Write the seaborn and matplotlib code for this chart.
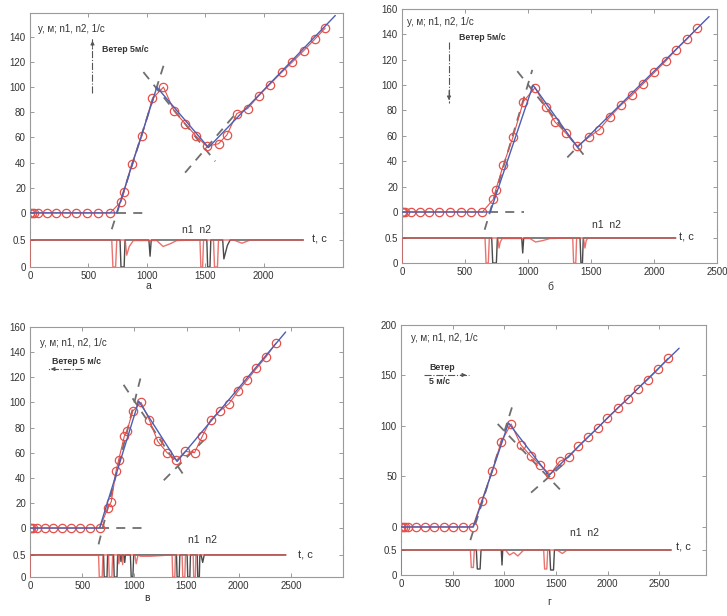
import matplotlib
matplotlib.use("Agg")
import matplotlib.pyplot as plt
import seaborn as sns

sns.set_style("white")
plt.rcParams['font.family'] = ['Liberation Sans', 'DejaVu Sans']

# ---------------- data ----------------
# panel а
a_t = [0, 14, 30, 71, 143, 223, 306, 394, 491, 586, 686, 780, 806, 871, 957, 1048, 1143, 1234, 1328,
       1423, 1514, 1614, 1686, 1771, 1863, 1957, 2051, 2157, 2246, 2343, 2437, 2528]
a_y = [0, 0, 0, 0, 0, 0, 0, 0, 0, 0, 0, 9, 17, 39, 61, 91, 100, 81, 71, 61, 53, 55, 62, 79, 83, 93,
       102, 112, 120, 129, 138, 147]
a_fit_t = [0, 743, 1086, 1528, 2614]
a_fit_y = [0, 0, 100, 52, 157]
a_tan_t = [[743, 971], [700, 1143], [971, 1586], [1328, 1743]]
a_tan_y = [[0, 0], [-13, 117], [112, 41], [32, 77]]
a_n1_t = [0, 0, 700, 710, 733, 743, 815, 828, 850, 885, 1085, 1140, 1200, 1257, 1455, 1463, 1478, 1486,
          1571, 1580, 1605, 1614, 1743, 1815, 1886, 2340]
a_n1_v = [0, 0.5, 0.5, 0, 0, 0.5, 0.5, 0.22, 0.38, 0.49, 0.49, 0.38, 0.43, 0.49, 0.5, 0, 0, 0.5,
          0.5, 0, 0, 0.5, 0.5, 0.44, 0.5, 0.5]
a_n2_t = [0, 771, 779, 806, 814, 1018, 1028, 1038, 1514, 1521, 1541, 1548, 1650, 1660, 1690, 1714, 2340]
a_n2_v = [0.5, 0.5, 0, 0, 0.5, 0.5, 0.2, 0.5, 0.5, 0, 0, 0.5, 0.5, 0.15, 0.40, 0.5, 0.5]

# panel б
b_t = [0, 10, 25, 69, 140, 214, 294, 378, 466, 550, 638, 725, 743, 804, 881, 963, 1056, 1140, 1214,
       1302, 1392, 1484, 1566, 1651, 1735, 1825, 1913, 2003, 2093, 2175, 2259, 2344]
b_y = [0, 0, 0, 0, 0, 0, 0, 0, 0, 0, 0, 10, 17, 37, 59, 87, 98, 83, 71, 62, 52, 59, 65, 75, 84, 92,
       101, 110, 119, 128, 136, 145]
b_fit_t = [0, 700, 1040, 1392, 2437]
b_fit_y = [0, 0, 100, 51, 154]
b_tan_t = [[690, 968], [656, 1034], [915, 1458], [1312, 1400]]
b_tan_y = [[0, 0], [-14, 112], [111, 43], [43, 52]]
b_n1_t = [0, 0, 659, 667, 685, 693, 760, 770, 780, 795, 1015, 1060, 1120, 1175, 1355, 1362, 1379, 1386,
          1440, 1452, 1462, 1475, 2172]
b_n1_v = [0, 0.5, 0.5, 0, 0, 0.5, 0.5, 0.3, 0.42, 0.49, 0.49, 0.42, 0.45, 0.49, 0.5, 0, 0, 0.5,
          0.5, 0.3, 0.45, 0.5, 0.5]
b_n2_t = [0, 712, 720, 749, 757, 950, 958, 966, 1413, 1420, 1432, 1439, 2172]
b_n2_v = [0.5, 0.5, 0, 0, 0.5, 0.5, 0.2, 0.5, 0.5, 0, 0, 0.5, 0.5]

# panel в
c_t = [0, 12, 32, 64, 144, 224, 311, 394, 481, 571, 667, 747, 779, 824, 849, 904, 929, 984, 1064,
       1144, 1224, 1314, 1404, 1490, 1577, 1651, 1731, 1817, 1907, 1994, 2083, 2170, 2260, 2356]
c_y = [0, 0, 0, 0, 0, 0, 0, 0, 0, 0, 0, 16, 21, 45, 54, 73, 77, 93, 100, 86, 69, 60, 54, 61, 60, 73,
       86, 93, 99, 109, 118, 127, 136, 147]
c_fit_t = [0, 667, 1042, 1410, 2450]
c_fit_y = [0, 0, 101, 53, 156]
c_tan_t = [[673, 1090], [657, 1058], [897, 1490], [1282, 1667]]
c_tan_y = [[0, 0], [-13, 119], [114, 40], [38, 70]]
c_n1_t = [0, 0, 657, 664, 692, 699, 753, 760, 785, 792, 845, 852, 860, 880, 888, 895, 1005, 1018, 1035,
          1060, 1150, 1362, 1368, 1388, 1394, 1458, 1464, 1484, 1490, 1564, 1569, 1585, 1590, 2452]
c_n1_v = [0, 0.5, 0.5, 0, 0, 0.5, 0.5, 0, 0, 0.5, 0.5, 0.3, 0.5, 0.5, 0.28, 0.5, 0.5, 0.3, 0.5,
          0.47, 0.47, 0.5, 0, 0, 0.5, 0.5, 0, 0, 0.5, 0.5, 0, 0, 0.5, 0.5]
c_n2_t = [0, 705, 711, 738, 744, 801, 807, 834, 840, 865, 872, 880, 900, 908, 915, 962, 970, 986, 994,
          1404, 1410, 1430, 1436, 1506, 1512, 1532, 1538, 1603, 1608, 1623, 1628, 1640, 1655, 1670, 2452]
c_n2_v = [0.5, 0.5, 0, 0, 0.5, 0.5, 0, 0, 0.5, 0.5, 0.35, 0.5, 0.5, 0.33, 0.5, 0.5, 0, 0, 0.5,
          0.5, 0, 0, 0.5, 0.5, 0, 0, 0.5, 0.5, 0, 0, 0.5, 0.5, 0.33, 0.5, 0.5]

# panel г
d_t = [0, 16, 39, 65, 145, 235, 316, 413, 506, 600, 694, 781, 881, 968, 1065, 1161, 1258, 1348, 1442,
       1535, 1623, 1716, 1806, 1903, 1994, 2097, 2194, 2290, 2387, 2484, 2581]
d_y = [0, 0, 0, 0, 0, 0, 0, 0, 0, 0, 0, 26, 55, 84, 102, 81, 70, 61, 52, 65, 69, 80, 89, 98, 108, 118,
       127, 137, 146, 156, 167]
d_fit_t = [0, 700, 1040, 1430, 2690]
d_fit_y = [0, 0, 103, 51, 177]
d_tan_t = [[671, 1081], [935, 1548], [1258, 1580]]
d_tan_y = [[-13, 121], [102, 36], [34, 63]]
d_n1_t = [0, 0, 671, 680, 700, 709, 1010, 1050, 1090, 1130, 1187, 1380, 1389, 1410, 1419, 1510, 1560,
          1607, 2613]
d_n1_v = [0, 0.5, 0.5, 0.15, 0.15, 0.5, 0.5, 0.40, 0.45, 0.38, 0.5, 0.5, 0.12, 0.12, 0.5, 0.5, 0.43,
          0.5, 0.5]
d_n2_t = [0, 729, 738, 765, 774, 970, 977, 984, 1438, 1447, 1475, 1484, 2613]
d_n2_v = [0.5, 0.5, 0.12, 0.12, 0.5, 0.5, 0.2, 0.5, 0.5, 0.1, 0.1, 0.5, 0.5]

captions = ["а", "б", "в", "г"]
ylabel_text = "y, м; n1, n2, 1/с"

# ---------------- layout ----------------
W, H = 727, 616
fig = plt.figure(figsize=(W / 100, H / 100), dpi=100)

RED = "#e4504a"
BLUE = "#4b5fb3"
DASH = "#6f6f6f"
GRAY = "#4a4a4a"
SPINE = "#9a9a9a"


def px_axes(L, R, T, B):
    return fig.add_axes([L / W, 1 - B / H, (R - L) / W, (B - T) / H])


def ftext(x, y, s, **kw):
    fig.text(x / W, 1 - y / H, s, **kw)


def farrow(x0, y0, x1, y1):
    fig.add_artist(plt.Line2D([x0 / W, x1 / W], [1 - y0 / H, 1 - y1 / H], transform=fig.transFigure,
                              color="#555555", lw=0.8, ls="-."))
    ax0.annotate("", xy=(x1 / W, 1 - y1 / H),
                 xytext=((x1 - 0.25 * (x1 - x0)) / W, 1 - (y1 - 0.25 * (y1 - y0)) / H),
                 xycoords="figure fraction", textcoords="figure fraction",
                 arrowprops=dict(arrowstyle="-|>", color="#555555", lw=0.6, mutation_scale=6))


panels = [
    dict(t=a_t, y=a_y, ft=a_fit_t, fy=a_fit_y, tt=a_tan_t, ty=a_tan_y,
         n1=(a_n1_t, a_n1_v), n2=(a_n2_t, a_n2_v), box=(30, 343, 13, 232, 267),
         xlim=(0, 2680), ylim=(-15.2, 159), sub_top=0.648,
         xticks=[0, 500, 1000, 1500, 2000], yticks=[0, 20, 40, 60, 80, 100, 120, 140]),
    dict(t=b_t, y=b_y, ft=b_fit_t, fy=b_fit_y, tt=b_tan_t, ty=b_tan_y,
         n1=(b_n1_t, b_n1_v), n2=(b_n2_t, b_n2_v), box=(402, 717, 9, 230, 263),
         xlim=(0, 2500), ylim=(-14.2, 160), sub_top=0.66,
         xticks=[0, 500, 1000, 1500, 2000, 2500], yticks=[0, 20, 40, 60, 80, 100, 120, 140, 160]),
    dict(t=c_t, y=c_y, ft=c_fit_t, fy=c_fit_y, tt=c_tan_t, ty=c_tan_y,
         n1=(c_n1_t, c_n1_v), n2=(c_n2_t, c_n2_v), box=(30, 343, 327, 547, 577),
         xlim=(0, 3000), ylim=(-15.1, 160), sub_top=0.68,
         xticks=[0, 500, 1000, 1500, 2000, 2500], yticks=[0, 20, 40, 60, 80, 100, 120, 140, 160]),
    dict(t=d_t, y=d_y, ft=d_fit_t, fy=d_fit_y, tt=d_tan_t, ty=d_tan_y,
         n1=(d_n1_t, d_n1_v), n2=(d_n2_t, d_n2_v), box=(401, 706, 325, 541, 575),
         xlim=(0, 2950), ylim=(-13.9, 200), sub_top=0.68,
         xticks=[0, 500, 1000, 1500, 2000, 2500], yticks=[0, 50, 100, 150, 200]),
]

tick_kw = dict(direction="in", length=3, width=0.6, color="#8a8a8a", labelcolor="#333333",
               labelsize=7, pad=3)

axes_main = []
for p in panels:
    L, R, T, Bd, B = p["box"]
    ax = px_axes(L, R, T, Bd)
    sx = px_axes(L, R, Bd, B)
    axes_main.append(ax)

    # tangent dashed lines
    for tx, ty in zip(p["tt"], p["ty"]):
        sns.lineplot(x=tx, y=ty, ax=ax, color=DASH, lw=1.3, linestyle=(0, (5, 4)),
                     estimator=None, sort=False, zorder=1)
    # measured trajectory with circles
    sns.lineplot(x=p["t"], y=p["y"], ax=ax, color=RED, lw=0.8, marker="o", markersize=6,
                 markerfacecolor="none", markeredgecolor=RED, markeredgewidth=0.9,
                 estimator=None, sort=False, zorder=2)
    # fitted model
    sns.lineplot(x=p["ft"], y=p["fy"], ax=ax, color=BLUE, lw=1.0, estimator=None, sort=False, zorder=3)

    # n2 and n1
    sns.lineplot(x=p["n2"][0], y=p["n2"][1], ax=sx, color=GRAY, lw=1.0, estimator=None, sort=False,
                 zorder=2)
    sns.lineplot(x=p["n1"][0], y=p["n1"][1], ax=sx, color=RED, lw=1.0, alpha=0.8, estimator=None,
                 sort=False, zorder=3)

    ax.set_xlim(*p["xlim"])
    ax.set_ylim(*p["ylim"])
    sx.set_xlim(*p["xlim"])
    sx.set_ylim(0, p["sub_top"])
    ax.set_xticks(p["xticks"])
    sx.set_xticks(p["xticks"])
    ax.set_yticks(p["yticks"])
    sx.set_yticks([0, 0.5])
    sx.set_yticklabels(["0", "0.5"])
    for a in (ax, sx):
        a.set_xlabel("")
        a.set_ylabel("")
        a.tick_params(**tick_kw)
        a.tick_params(axis="y", left=True, right=True)
        a.set_facecolor("none")
        for s in a.spines.values():
            s.set_color(SPINE)
            s.set_linewidth(0.8)
    ax.tick_params(axis="x", bottom=False, top=True, labelbottom=False)
    sx.tick_params(axis="x", bottom=True, top=False)
    ax.spines["bottom"].set_visible(False)
    sx.spines["top"].set_visible(False)

ax0 = axes_main[0]

# ---------------- texts ----------------
lab_kw = dict(fontsize=7, color="#333333", va="center", ha="left")
wind_kw = dict(fontsize=6.3, color="#333333", va="center", ha="left", fontweight="bold")
n_kw = dict(fontsize=7.5, color="#333333", va="center", ha="center")
t_kw = dict(fontsize=8, color="#333333", va="center", ha="left")
cap_kw = dict(fontsize=7.5, color="#333333", va="center", ha="center")

# а
ftext(38, 29, ylabel_text, **lab_kw)
farrow(92.5, 93, 92.5, 38)
ftext(102, 49, "Ветер 5м/с", **wind_kw)
ftext(196, 230, "n1  n2", **n_kw)
ftext(312, 240, "t, с", **t_kw)
ftext(148, 286, captions[0], **cap_kw)
# б
ftext(407, 22, ylabel_text, **lab_kw)
farrow(449, 42, 449, 103)
ftext(459, 38, "Ветер 5м/с", **wind_kw)
ftext(606, 225, "n1  n2", **n_kw)
ftext(679, 238, "t, с", **t_kw)
ftext(550, 287, captions[1], **cap_kw)
# в
ftext(40, 343, ylabel_text, **lab_kw)
farrow(82, 369, 48, 369)
ftext(52, 361, "Ветер 5 м/с", **wind_kw)
ftext(202, 540, "n1  n2", **n_kw)
ftext(298, 555, "t, с", **t_kw)
ftext(147, 598, captions[2], **cap_kw)
# г
ftext(411, 338, ylabel_text, **lab_kw)
farrow(424, 375, 469, 375)
ftext(429, 367, "Ветер", **wind_kw)
ftext(429, 382, "5 м/с", **wind_kw)
ftext(584, 533, "n1  n2", **n_kw)
ftext(676, 548, "t, с", **t_kw)
ftext(549, 602, captions[3], **cap_kw)

fig.savefig("out.png", dpi=100, facecolor="white")
